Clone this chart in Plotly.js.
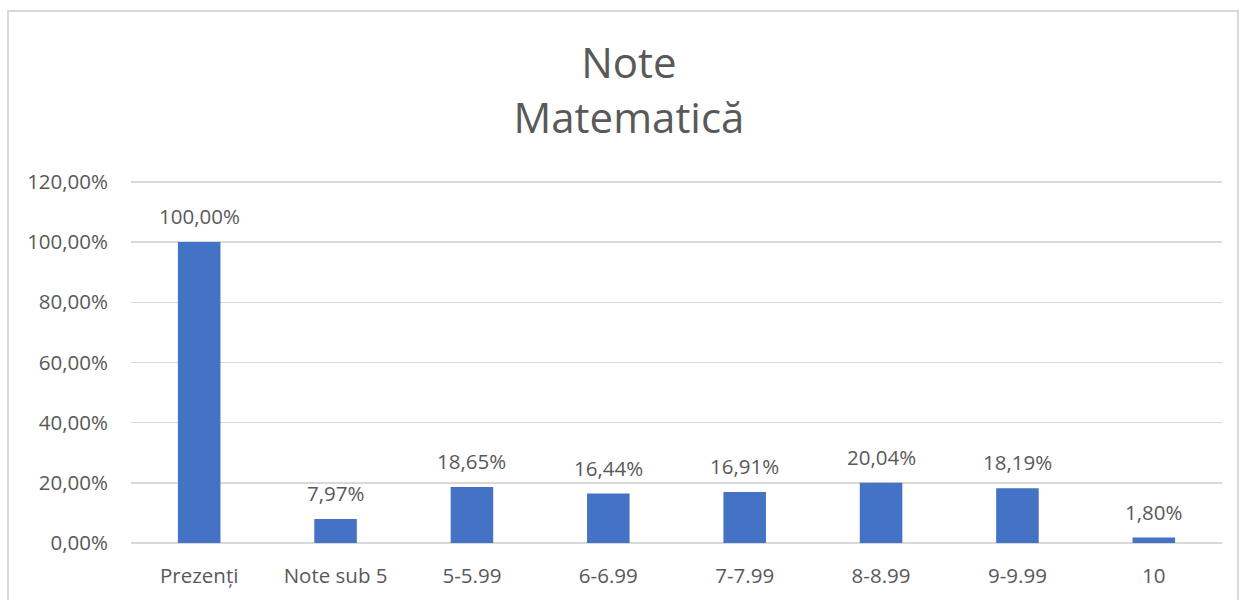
<!DOCTYPE html>
<html>
<head>
<meta charset="utf-8">
<script src="https://cdn.plot.ly/plotly-3.0.1.min.js"></script>
<style>
html,body{margin:0;padding:0;background:#fff;}
#wrap{position:relative;width:1244px;height:600px;overflow:hidden;}
#chart{position:absolute;left:0;top:0;width:1244px;height:600px;}
#frame{position:absolute;left:7px;top:10px;width:1228px;height:620px;border:2px solid #D9D9D9;pointer-events:none;}
</style>
</head>
<body>
<div id="wrap"><div id="chart"></div><div id="frame"></div></div>
<script>
const categories = ["Prezenți", "Note sub 5", "5-5.99", "6-6.99", "7-7.99", "8-8.99", "9-9.99", "10"];
const values = [1.0, 0.0797, 0.1865, 0.1644, 0.1691, 0.2004, 0.1819, 0.018];
const yTicks = [0, 0.2, 0.4, 0.6, 0.8, 1.0, 1.2];
const titleLines = ["Note", "Matematică"];

const fontFam = "'Open Sans', 'Noto Sans', sans-serif";
const grey = "#595959";
const fsz = 20.5;

function fmtPct(v) {
  return (v * 100).toFixed(2).replace(".", ",") + "%";
}

const trace = {
  type: "bar",
  x: categories,
  y: values,
  marker: {color: "#4472C4"},
  hoverinfo: "skip"
};

const labels = categories.map((c, i) => ({
  x: i, y: values[i], xref: "x", yref: "y",
  text: fmtPct(values[i]),
  showarrow: false,
  yanchor: "bottom",
  yshift: 10,
  font: {family: fontFam, size: fsz, color: grey}
}));

const layout = {
  width: 1244,
  height: 600,
  margin: {l: 131, r: 22, t: 178, b: 57},
  paper_bgcolor: "#ffffff",
  plot_bgcolor: "#ffffff",
  separators: ", ",
  showlegend: false,
  bargap: 0.688,
  font: {family: fontFam, color: grey},
  annotations: labels,
  title: {
    text: titleLines.join("<br>"),
    x: 0.5056, xref: "container", xanchor: "center",
    y: 1 - 78/600, yref: "container", yanchor: "middle",
    font: {family: fontFam, size: 42, color: grey}
  },
  xaxis: {
    type: "category",
    range: [-0.5, categories.length - 0.5],
    autorange: false,
    showgrid: false,
    zeroline: false,
    showline: false,
    ticks: "",
    tickfont: {family: fontFam, size: fsz, color: grey},
    ticklabelstandoff: 18
  },
  yaxis: {
    range: [0, 1.213],
    autorange: false,
    tickvals: yTicks,
    tickformat: ".2%",
    showgrid: true,
    gridcolor: "#D9D9D9",
    gridwidth: 1.5,
    zeroline: true,
    zerolinecolor: "#D9D9D9",
    zerolinewidth: 1.5,
    showline: false,
    ticks: "",
    ticklabelstandoff: 22,
    tickfont: {family: fontFam, size: fsz, color: grey}
  }
};

Plotly.newPlot("chart", [trace], layout, {displayModeBar: false, staticPlot: true});
</script>
</body>
</html>
